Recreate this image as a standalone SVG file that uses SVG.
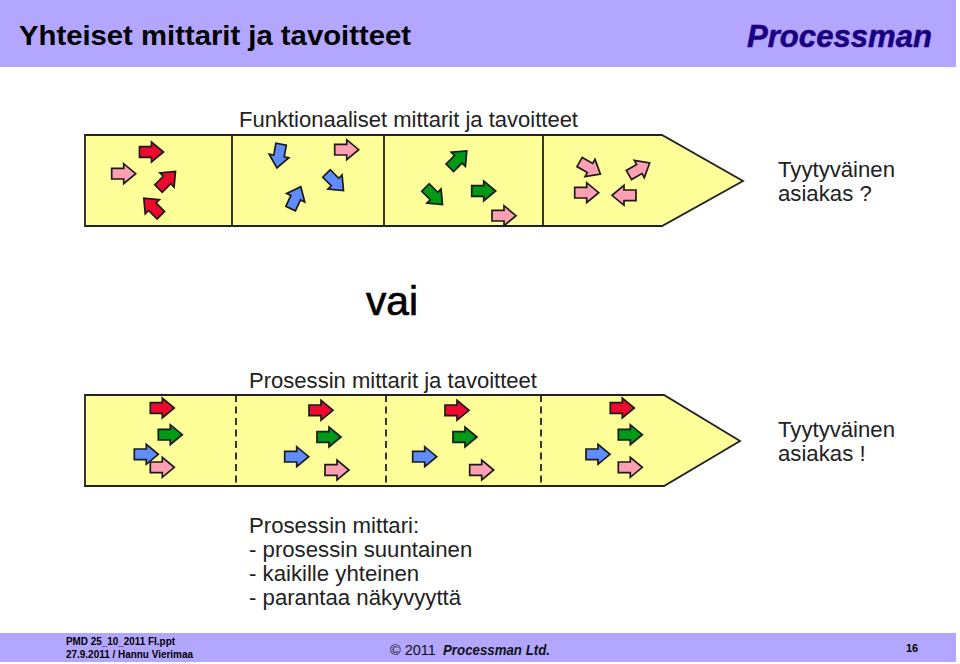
<svg xmlns="http://www.w3.org/2000/svg" xmlns:xlink="http://www.w3.org/1999/xlink" width="960" height="664" viewBox="0 0 960 664">
<style>
text{font-family:"Liberation Sans",Arial,sans-serif;fill:#000}
.t{font-size:22.2px;fill:#222}
.body{fill:#ffff99;stroke:#222;stroke-width:1.8}
.div{stroke:#222;stroke-width:1.8;fill:none}
.dash{stroke:#222;stroke-width:1.8;fill:none;stroke-dasharray:7 4.5}
.a{stroke:#1a1a1a;stroke-width:1.7;stroke-linejoin:miter}
.r{fill:#ee0a2e}.p{fill:#ff9fb4}.b{fill:#5f8dff}.g{fill:#009a16}
.f{font-size:11px;font-weight:bold}
</style>
<defs><path id="ar" d="M-12,-5.3H0V-10L12,0L0,10V5.3H-12Z"/></defs>
<rect width="960" height="664" fill="#fff"/>
<g id="header">
<rect x="0" y="0" width="956" height="67" fill="#b3a6ff"/>
<text x="19" y="45" font-size="27.5" font-weight="bold" textLength="392" lengthAdjust="spacingAndGlyphs">Yhteiset mittarit ja tavoitteet</text>
<text x="747" y="47" font-size="31" font-weight="bold" font-style="italic" style="fill:#1a0080;stroke:#1a0080;stroke-width:.5" textLength="185" lengthAdjust="spacingAndGlyphs">Processman</text>
</g>
<g id="top-label"><text class="t" x="239" y="127" textLength="339" lengthAdjust="spacingAndGlyphs">Funktionaaliset mittarit ja tavoitteet</text></g>
<g id="top-process">
<path class="body" d="M85,135H662L743,181L662,226H85Z"/>
<path class="div" d="M232,135V227M384,135V227M543,135V227"/>
</g>
<g id="top-arrows">
<use href="#ar" class="a r" transform="translate(151.5,152)"/>
<use href="#ar" class="a p" transform="translate(123.7,173.7)"/>
<use href="#ar" class="a r" transform="translate(167,180) rotate(-45)"/>
<use href="#ar" class="a r" transform="translate(152.3,206.7) rotate(-135)"/>
<use href="#ar" class="a b" transform="translate(279,156) rotate(100)"/>
<use href="#ar" class="a p" transform="translate(346.7,149.7)"/>
<use href="#ar" class="a b" transform="translate(335,182) rotate(45)"/>
<use href="#ar" class="a b" transform="translate(295.7,197.7) rotate(-65)"/>
<use href="#ar" class="a g" transform="translate(458.3,159.3) rotate(-45)"/>
<use href="#ar" class="a g" transform="translate(434,196) rotate(45)"/>
<use href="#ar" class="a g" transform="translate(483.7,191)"/>
<use href="#ar" class="a p" transform="translate(504,215.7)"/>
<use href="#ar" class="a p" transform="translate(590,168) rotate(30)"/>
<use href="#ar" class="a p" transform="translate(639.3,169) rotate(-30)"/>
<use href="#ar" class="a p" transform="translate(586.7,192.7)"/>
<use href="#ar" class="a p" transform="translate(624,195.3) rotate(180)"/>
</g>
<g id="customer-1"><text class="t" x="778" y="177" textLength="117" lengthAdjust="spacingAndGlyphs">Tyytyväinen</text><text class="t" x="778" y="201">asiakas ?</text></g>
<g id="vai"><text x="366" y="315" font-size="41" style="fill:#000;stroke:#000;stroke-width:.7" textLength="52" lengthAdjust="spacingAndGlyphs">vai</text></g>
<g id="bottom-label"><text class="t" x="249" y="388" textLength="288" lengthAdjust="spacingAndGlyphs">Prosessin mittarit ja tavoitteet</text></g>
<g id="bottom-process">
<path class="body" d="M85,395H664L740,441L664,486H85Z"/>
<path class="dash" d="M236,395V486M386,395V486M541,395V486"/>
</g>
<g id="bottom-arrows">
<use href="#ar" class="a r" transform="translate(162.3,408)"/>
<use href="#ar" class="a g" transform="translate(170.3,434.7)"/>
<use href="#ar" class="a b" transform="translate(146.3,454.3)"/>
<use href="#ar" class="a p" transform="translate(162.3,467.3)"/>
<use href="#ar" class="a r" transform="translate(321,410.3)"/>
<use href="#ar" class="a g" transform="translate(329,437)"/>
<use href="#ar" class="a b" transform="translate(296.7,456.7)"/>
<use href="#ar" class="a p" transform="translate(337,470)"/>
<use href="#ar" class="a r" transform="translate(457,410.3)"/>
<use href="#ar" class="a g" transform="translate(465,437)"/>
<use href="#ar" class="a b" transform="translate(424.7,456.7)"/>
<use href="#ar" class="a p" transform="translate(481.7,470)"/>
<use href="#ar" class="a r" transform="translate(622.3,408)"/>
<use href="#ar" class="a g" transform="translate(630.3,434.7)"/>
<use href="#ar" class="a b" transform="translate(598,454.3)"/>
<use href="#ar" class="a p" transform="translate(630.3,467.3)"/>
</g>
<g id="customer-2"><text class="t" x="778" y="437" textLength="117" lengthAdjust="spacingAndGlyphs">Tyytyväinen</text><text class="t" x="778" y="461">asiakas !</text></g>
<g id="notes">
<text class="t" x="249" y="533">Prosessin mittari:</text>
<text class="t" x="249" y="557">- prosessin suuntainen</text>
<text class="t" x="249" y="581">- kaikille yhteinen</text>
<text class="t" x="249" y="605">- parantaa näkyvyyttä</text>
</g>
<g id="footer">
<rect x="0" y="633" width="956" height="29" fill="#b3a6ff"/>
<text class="f" x="66" y="645" textLength="109" lengthAdjust="spacingAndGlyphs">PMD 25_10_2011 FI.ppt</text>
<text class="f" x="66" y="658" textLength="127" lengthAdjust="spacingAndGlyphs">27.9.2011 / Hannu Vierimaa</text>
<text x="390" y="655" font-size="14.5" style="fill:#111">© 2011</text>
<text x="443" y="655" font-size="14.5" font-style="italic" font-weight="bold" style="fill:#111" textLength="107" lengthAdjust="spacingAndGlyphs">Processman Ltd.</text>
<text class="f" x="906" y="652">16</text>
</g>
</svg>
